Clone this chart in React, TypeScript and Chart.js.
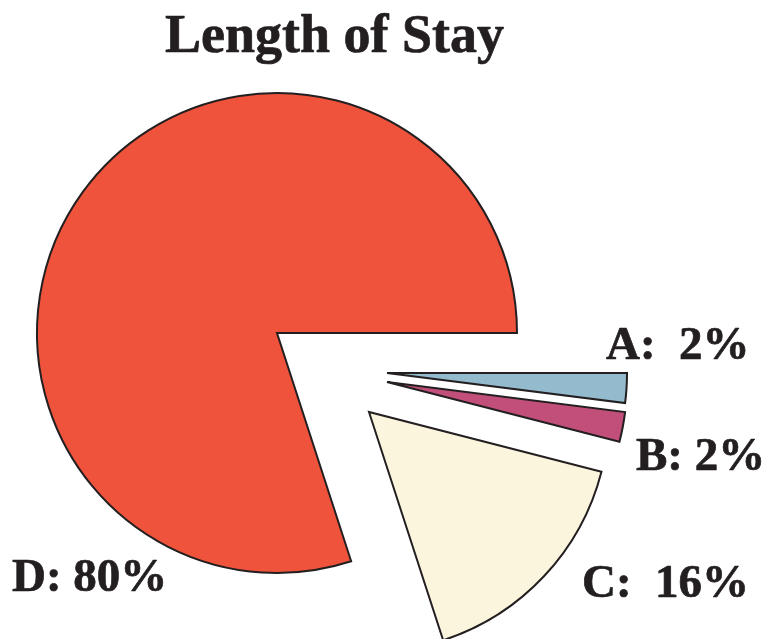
import React, { useEffect, useRef } from "react";
import { Chart, registerables } from "chart.js";

Chart.register(...registerables);

// Length of stay categories and their shares (percent)
const CATEGORIES = ["A", "B", "C", "D"];
const VALUES = [2, 2, 16, 80];
// Spacing between the colon and the number in each slice label
const LABEL_GAPS = ["  ", " ", "  ", " "];
const TITLE = "Length of Stay";

// Styling
const COLORS = ["#94BBCD", "#C14F7A", "#FCF5DE", "#F0533B"];
const BORDER = "#231F20";
// Explode displacement of each slice (pixels)
const EXPLODE_DX = [110, 110, 92, 0];
const EXPLODE_DY = [40, 49, 79, 0];
// Label anchors (left edge, baseline)
const LABEL_X = [606, 636, 582, 12];
const LABEL_Y = [359, 470, 597, 591];
const SERIF = "'Liberation Serif', 'Times New Roman', serif";

const explodePlugin = {
  id: "explodeSlices",
  afterDatasetsUpdate(chart: any) {
    const meta = chart.getDatasetMeta(0);
    meta.data.forEach((arc: any, i: number) => {
      arc.x += EXPLODE_DX[i] || 0;
      arc.y += EXPLODE_DY[i] || 0;
    });
  },
};

const textPlugin = {
  id: "pieText",
  afterDraw(chart: any) {
    const ctx = chart.ctx;
    ctx.save();
    ctx.fillStyle = BORDER;
    ctx.strokeStyle = BORDER;
    ctx.lineWidth = 0.7;
    ctx.lineJoin = "round";
    ctx.textBaseline = "alphabetic";
    ctx.textAlign = "center";
    ctx.font = `bold 54px ${SERIF}`;
    ctx.fillText(TITLE, 334.5, 52);
    ctx.strokeText(TITLE, 334.5, 52);
    ctx.textAlign = "left";
    ctx.font = `bold 47px ${SERIF}`;
    CATEGORIES.forEach((c, i) => {
      const text = `${c}:${LABEL_GAPS[i]}${VALUES[i]}%`;
      ctx.fillText(text, LABEL_X[i], LABEL_Y[i]);
      ctx.strokeText(text, LABEL_X[i], LABEL_Y[i]);
    });
    ctx.restore();
  },
};

export default function App() {
  const ref = useRef<HTMLCanvasElement | null>(null);

  useEffect(() => {
    if (!ref.current) return;
    const chart = new Chart(ref.current, {
      type: "pie",
      data: {
        labels: CATEGORIES,
        datasets: [
          {
            data: VALUES,
            backgroundColor: COLORS,
            borderColor: BORDER,
            borderWidth: 2,
            borderJoinStyle: "miter",
          } as any,
        ],
      },
      options: {
        responsive: false,
        animation: false,
        rotation: 90,
        radius: 240,
        layout: { padding: { left: 37, top: 93, right: 249, bottom: 66 } },
        events: [],
        plugins: {
          legend: { display: false },
          title: { display: false },
          tooltip: { enabled: false },
        },
      } as any,
      plugins: [explodePlugin, textPlugin],
    });
    return () => chart.destroy();
  }, []);

  return (
    <div style={{ position: "absolute", left: 0, top: 0, width: 766, height: 639, background: "#ffffff" }}>
      <canvas ref={ref} width={766} height={639} style={{ display: "block" }} />
    </div>
  );
}
